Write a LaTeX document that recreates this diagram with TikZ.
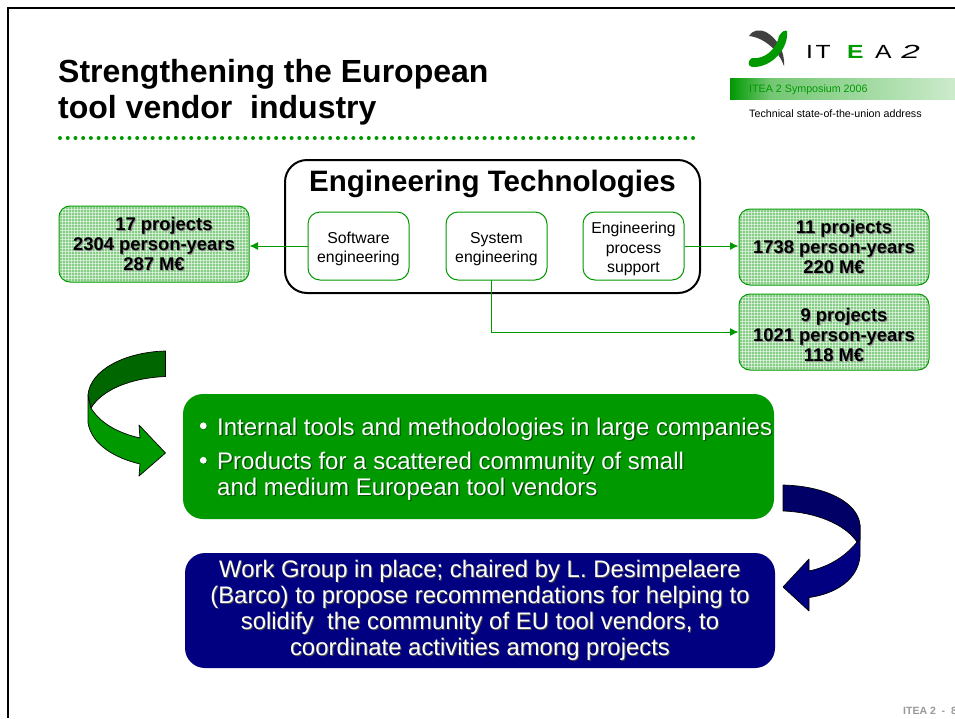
\documentclass[tikz,border=0pt]{standalone}
\usepackage{fontspec}
\setmainfont{Liberation Sans}
\usetikzlibrary{arrows.meta}
\definecolor{itgreen}{HTML}{009900}
\definecolor{itdark}{HTML}{006600}
\definecolor{itblue}{HTML}{000080}
\definecolor{itnavy}{HTML}{000066}
\definecolor{hatchbg}{HTML}{85CC85}
\newcommand{\shd}[3]{\leavevmode\rlap{\raisebox{-#1}{\hspace{#1}\color{#2}#3}}#3}
\newcommand{\gsh}[1]{\shd{1pt}{black!45}{#1}}
\newcommand{\bsh}[1]{\shd{1pt}{black!70}{#1}}
\newcommand{\toph}[1]{\rule{0pt}{#1}}
\tikzset{
  hatchbox/.style={draw=itgreen,line width=1pt,rounded corners=11pt,fill=hatchbg,
    minimum width=190pt,minimum height=76pt,inner sep=0pt,align=center,
    font=\fontsize{18.4}{20}\selectfont\bfseries,text=black,
    path picture={
      \foreach \i in {0,3,...,195}{
        \draw[white,opacity=.55,line width=.9pt]
          ([xshift=\i pt]path picture bounding box.north west) -- ([xshift=\i pt]path picture bounding box.south west);}
      \foreach \i in {0,3,...,81}{
        \draw[white,opacity=.55,line width=.9pt]
          ([yshift=-\i pt]path picture bounding box.north west) -- ([yshift=-\i pt]path picture bounding box.north east);}
    }},
  subbox/.style={draw=itgreen,line width=1pt,rounded corners=12pt,fill=white,
    minimum width=101pt,minimum height=68pt,inner sep=0pt,align=center,
    font=\fontsize{15.8}{19.5}\selectfont,text=black},
  bigbox/.style={draw=black,line width=2pt,rounded corners=22pt,fill=white,
    minimum width=415pt,minimum height=133pt,inner sep=0pt},
  link/.style={draw=itgreen,line width=1pt,-{Latex[length=8.5pt,width=8pt]}},
  msgbox/.style={rounded corners=20pt,inner sep=0pt,text=white,align=left},
  swoosh/.style={draw=black,line width=.7pt,line join=round}
}
\begin{document}
\begin{tikzpicture}[x=1pt,y=-1pt]
\useasboundingbox (0,0) rectangle (955,718);
\clip (0,0) rectangle (955,718);
\fill[white] (0,0) rectangle (955,718);
% frame
\draw[black,line width=2pt] (7.5,718) -- (7.5,8) -- (955,8);
% title
\node[anchor=base west,inner sep=0pt,font=\fontsize{32}{36}\selectfont\bfseries] (t1) at (58,82) {Strengthening the European};
\node[anchor=base west,inner sep=0pt,font=\fontsize{32}{36}\selectfont\bfseries] (t2) at (58,118) {tool vendor\ \ industry};
\foreach \i in {0,...,82}{\fill[itgreen] ({60+\i*7.72},138) circle (2);}
% logo
\fill[black!75] (749,36) .. controls (752,30) and (760,29) .. (766,32) .. controls (778,39) and (785,52) .. (784,66) .. controls (779,52) and (766,38) .. (749,36) -- cycle;
\fill[itgreen] (787,31) .. controls (789,48) and (772,68) .. (752,67) .. controls (747,66) and (748,60) .. (752,58) .. controls (765,60) and (777,48) .. (779,36) .. controls (782,31) and (785,30) .. (787,31) -- cycle;
\node[anchor=base west,inner sep=0pt,font=\fontsize{19}{22}\selectfont] (logo) at (806,58.5) {\scalebox{1.3}[1]{I\hspace{2pt}T\hspace{12.5pt}\textcolor{itgreen}{\bfseries E}\hspace{9pt}A\hspace{7.5pt}\scalebox{1.35}[1]{\textit{2}}}};
% banner
\shade[left color=itgreen,right color=itgreen!55] (730,78) rectangle (770,99);
\shade[left color=itgreen!55,right color=itgreen!20] (769.5,78) rectangle (955,99);
\node[anchor=base west,inner sep=0pt,font=\fontsize{10.7}{13}\selectfont,text=itgreen] (sym) at (749,92) {ITEA 2 Symposium 2006};
\node[anchor=base west,inner sep=0pt,font=\fontsize{10.7}{13}\selectfont] (tech) at (749,117) {Technical state-of-the-union address};
% engineering box
\node[bigbox] (eng) at (492.5,226.5) {};
\node[anchor=base,inner sep=0pt,font=\fontsize{29.5}{34}\selectfont\bfseries] (engt) at (492.5,191) {Engineering Technologies};
\node[subbox] (sw) at (358.5,246) {\toph{17.6pt}Software\\engineering};
\node[subbox] (sys) at (496.5,246) {\toph{17.6pt}System\\engineering};
\node[subbox] (proc) at (633.5,246) {\toph{17.6pt}Engineering\\process\\support};
% project boxes
\node[hatchbox] (p1) at (154,244) {\toph{15pt}\gsh{\hspace{20pt}17 projects}\\\gsh{2304 person-years}\\\gsh{287 M€}};
\node[hatchbox] (p2) at (834,247) {\gsh{\hspace{20pt}11 projects}\\\gsh{1738 person-years}\\\gsh{220 M€}};
\node[hatchbox] (p3) at (834,332) {\toph{20pt}\gsh{\hspace{20pt}9 projects}\\\gsh{1021 person-years}\\\gsh{118 M€}};
% connectors
\draw[link] (sw.west) -- (sw.west -| p1.east);
\draw[link] (proc.east) -- (proc.east -| p2.west);
\coordinate (sysdrop) at (491,280);
\draw[link] (sysdrop) |- (p3.west);
% message boxes
\node[msgbox,fill=itgreen,minimum width=591pt,minimum height=125pt] (gb) at (478.5,456.5) {};
\node[anchor=base west,inner sep=0pt,text=white,font=\fontsize{24}{27}\selectfont] (b1) at (217,435) {\shd{1.3pt}{itdark!80!black}{Internal tools and methodologies in large companies}};
\node[anchor=base west,inner sep=0pt,text=white,font=\fontsize{24}{27}\selectfont] (b2) at (217,469.5) {\shd{1.3pt}{itdark!80!black}{Products for a scattered community of small}};
\node[anchor=base west,inner sep=0pt,text=white,font=\fontsize{24}{27}\selectfont] (b3) at (217,495) {\shd{1.3pt}{itdark!80!black}{and medium European tool vendors}};
\fill[itdark] (204,426.5) circle (3.4);\fill[white] (203.3,425.8) circle (3.4);
\fill[itdark] (204,461) circle (3.4);\fill[white] (203.3,460.3) circle (3.4);
\node[msgbox,fill=itblue,minimum width=590pt,minimum height=115pt,align=center,font=\fontsize{23.9}{26}\selectfont] (bb) at (480,610.5) {\bsh{Work Group in place; chaired by L. Desimpelaere}\\\bsh{(Barco) to propose recommendations for helping to}\\\bsh{solidify\ \ the community of EU tool vendors, to}\\\bsh{coordinate activities among projects}};
% green curved arrow
\draw[swoosh,fill=itgreen] (88,395) -- (88,423) .. controls (92,445) and (115,458) .. (140,464) -- (139,476) -- (165.5,453) -- (139,425) -- (140,438) .. controls (118,433) and (100,423) .. (91,408) -- cycle;
\draw[swoosh,fill=itdark] (165.5,351) .. controls (125,352) and (90,370) .. (88,395) -- (91,408) .. controls (102,390) and (130,378) .. (165.5,376.5) -- cycle;
% blue curved arrow
\draw[swoosh,fill=itblue] (857,542) .. controls (845,557) and (828,567) .. (809,571) -- (809,559) -- (783,587) -- (809,611) -- (809,597.5) .. controls (835,594) and (858,580) .. (860,556) -- (860,525) -- cycle;
\draw[swoosh,fill=itnavy] (783,485) .. controls (825,486) and (858,502) .. (860,525) -- (860,540) -- (857,542) .. controls (845,524) and (815,512) .. (783,511) -- cycle;
% page number
\node[anchor=base west,inner sep=0pt,text=black!40,font=\fontsize{10.5}{12}\selectfont\bfseries] (pg) at (903,714) {ITEA 2\ \ -\ \ 8};
\end{tikzpicture}
\end{document}
